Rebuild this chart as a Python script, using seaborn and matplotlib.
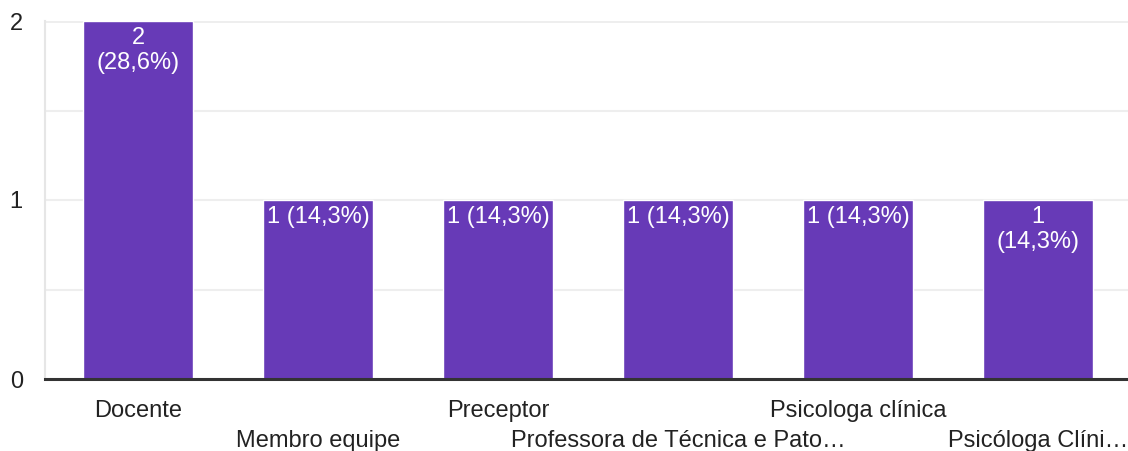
import numpy as np
import pandas as pd
import matplotlib
matplotlib.use("Agg")
import matplotlib.pyplot as plt
import seaborn as sns

# data
categories = ["Docente", "Membro equipe", "Preceptor",
              "Professora de Técnica e Pato…", "Psicologa clínica",
              "Psicóloga Clíni…"]
counts = [2, 1, 1, 1, 1, 1]
# bars whose value label wraps onto two lines
wrapped = [True, False, False, False, False, True]

bar_color = "#673AB7"
text_color = "#222222"

sns.set_theme(style="white")
plt.rcParams["font.family"] = ["Liberation Sans", "DejaVu Sans"]

df = pd.DataFrame({"category": categories, "count": counts})
total = sum(counts)

fig = plt.figure(figsize=(11.28, 4.51), dpi=100)
ax = fig.add_axes([45 / 1128, 72 / 451, 1 - 45 / 1128, 358 / 451])

sns.barplot(data=df, x="category", y="count", color=bar_color,
            saturation=1, width=0.615, ax=ax)

ax.set_ylim(0, 2)
ax.set_xlim(-0.517, 5.5)
ax.set_yticks([0, 1, 2])
ax.set_yticks([0.5, 1.5], minor=True)
ax.grid(axis="y", which="both", color="#EEEEEE", linewidth=1.5)
ax.set_axisbelow(True)

for s in ["top", "right"]:
    ax.spines[s].set_visible(False)
ax.spines["left"].set_color("#E6E6E6")
ax.spines["left"].set_linewidth(1.5)
ax.spines["bottom"].set_color("#333333")
ax.spines["bottom"].set_linewidth(2.2)
ax.axhline(2, color="#EEEEEE", linewidth=2, zorder=0)

# tick labels staggered on two rows
ax.set_xticks(range(len(categories)))
ax.set_xticklabels(categories, fontsize=17, color=text_color)
ax.tick_params(axis="x", length=0)
for i, tick in enumerate(ax.xaxis.get_major_ticks()):
    tick.set_pad(15 if i % 2 == 0 else 37)
ax.tick_params(axis="y", which="both", length=0, pad=16, labelsize=17,
               labelcolor=text_color)
ax.set_xlabel("")
ax.set_ylabel("")

# value labels inside the bars
for i, (rect, c) in enumerate(zip(ax.patches, counts)):
    pct = f"{100 * c / total:.1f}".replace(".", ",")
    sep = "\n" if wrapped[i] else " "
    label = f"{c}{sep}({pct}%)"
    ax.annotate(label, (rect.get_x() + rect.get_width() / 2, rect.get_height()),
                xytext=(0, -4.5), textcoords="offset points",
                ha="center", va="top", color="white", fontsize=17,
                linespacing=1.15)

fig.savefig("out.png", dpi=100)
